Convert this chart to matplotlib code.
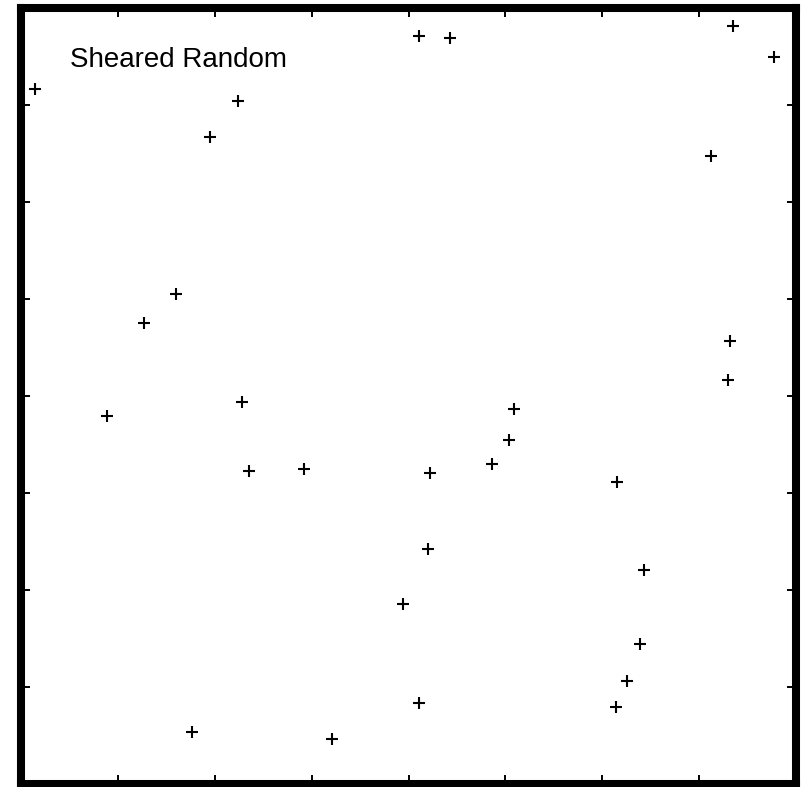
import numpy as np
import matplotlib
matplotlib.use("Agg")
import matplotlib.pyplot as plt

# points
x_vals = [0.14, 4.11, 4.43, 7.35, 7.77, 2.24, 1.95, 7.12, 1.60, 1.27,
          7.32, 7.30, 0.89, 2.28, 5.09, 5.04, 2.35, 2.92, 4.22, 4.86,
          6.15, 4.20, 6.43, 3.94, 6.39, 6.26, 4.11, 6.14, 1.77, 3.21]
y_vals = [7.16, 7.71, 7.69, 7.81, 7.50, 7.04, 6.67, 6.47, 5.05, 4.75,
          4.57, 4.17, 3.79, 3.94, 3.87, 3.55, 3.23, 3.25, 3.21, 3.30,
          3.11, 2.42, 2.21, 1.86, 1.44, 1.06, 0.84, 0.79, 0.54, 0.46]
ticks = [1, 2, 3, 4, 5, 6, 7]
title = "Sheared Random"

W, H = 806, 787
fig = plt.figure(figsize=(W / 100, H / 100), dpi=100)
ax = fig.add_axes([21 / W, (H - 784) / H, 775 / W, 776 / H])

ax.plot(x_vals, y_vals, linestyle="none", marker="+", color="black",
        markersize=8, markeredgewidth=1.5)

ax.set_xlim(0, 8)
ax.set_ylim(0, 8)
ax.set_xticks(ticks)
ax.set_yticks(ticks)
ax.tick_params(direction="in", length=6.5, width=1.4, top=True, right=True,
               labelbottom=False, labelleft=False)
for s in ax.spines.values():
    s.set_linewidth(5.8)

ax.text(0.063, 0.924, title, transform=ax.transAxes, fontsize=20,
        family="Liberation Sans", va="baseline", ha="left")

fig.savefig("out.png", dpi=100)
